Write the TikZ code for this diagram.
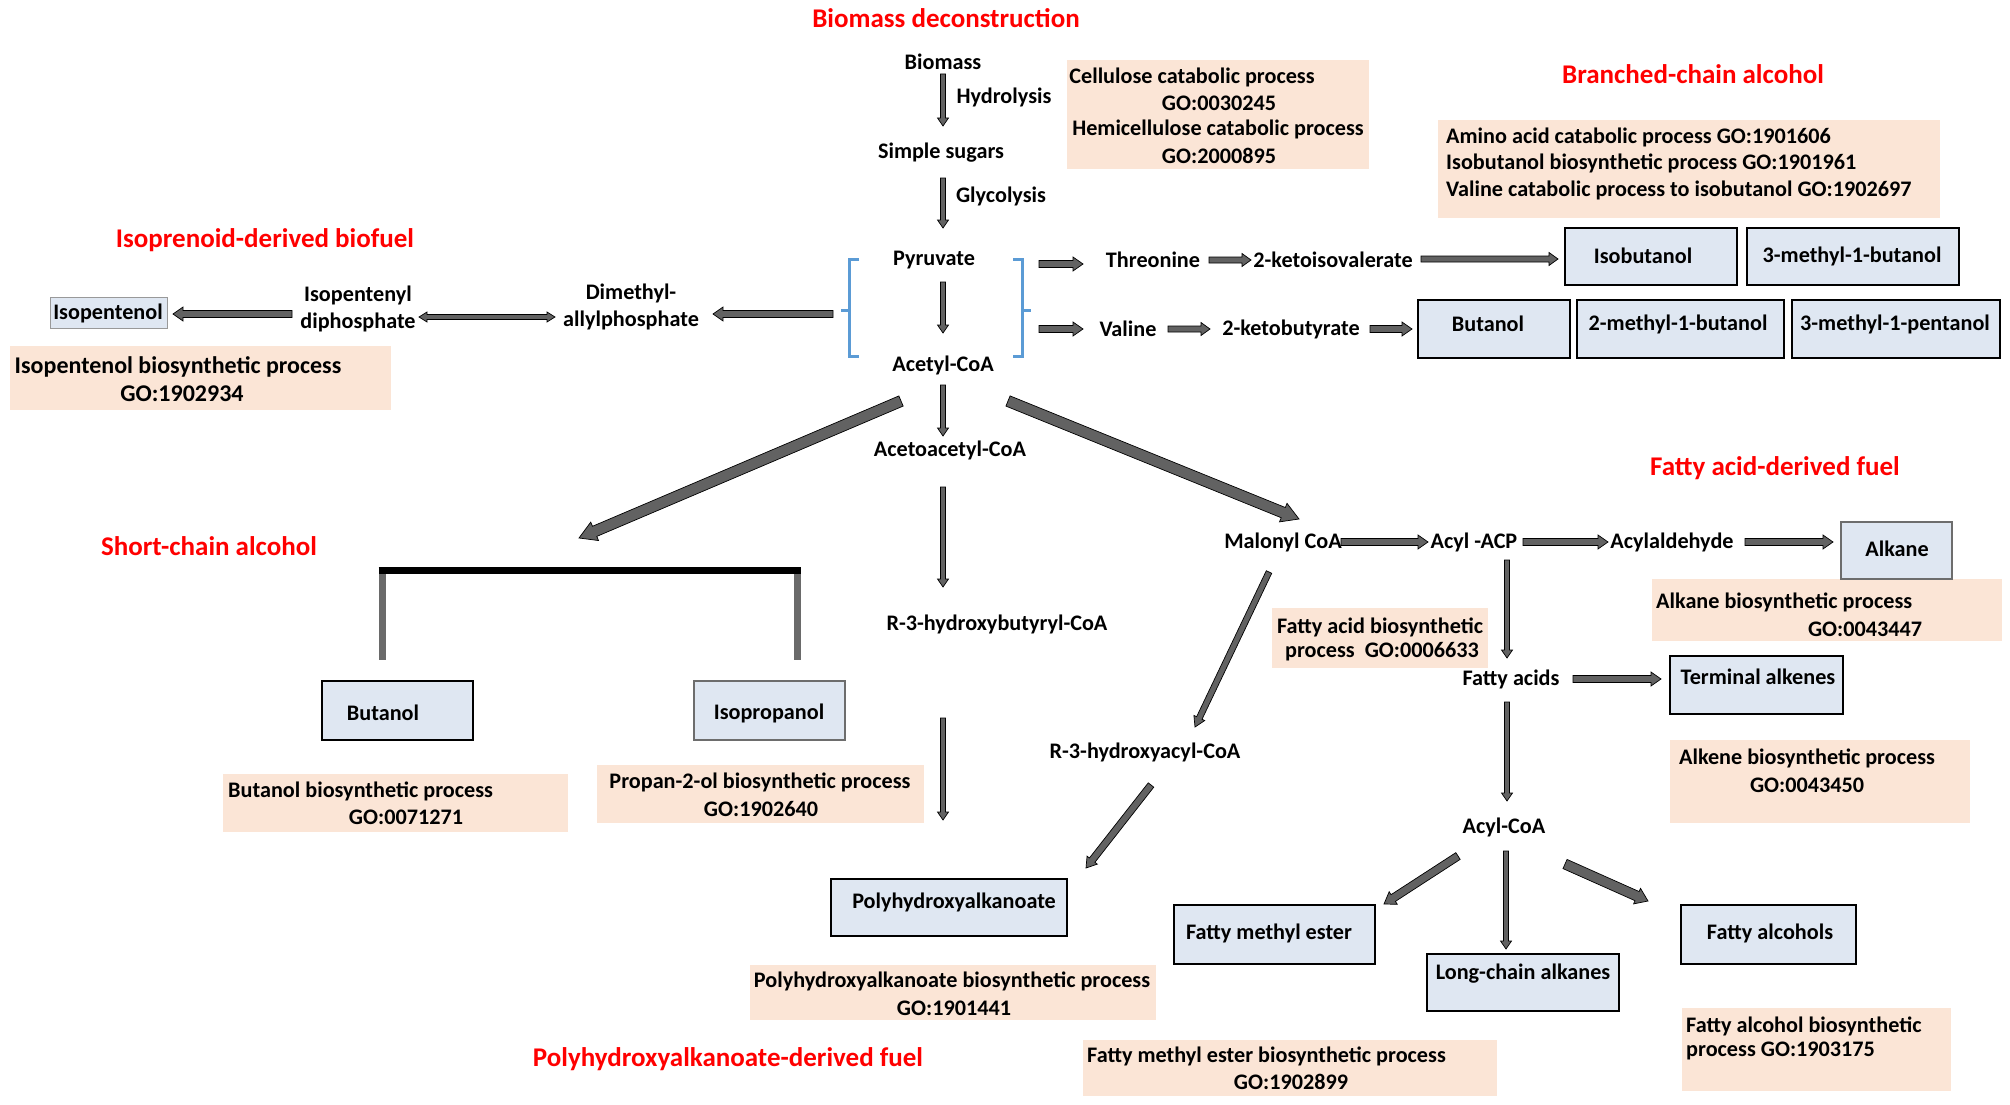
\documentclass[tikz,border=0pt]{standalone}
\usepackage{fontspec}
\setmainfont{Carlito}
\usetikzlibrary{calc}
\definecolor{peach}{HTML}{FBE5D6}
\definecolor{boxblue}{HTML}{DFE7F2}
\definecolor{arrowgray}{HTML}{626262}
\definecolor{brblue}{HTML}{5B9BD5}
\definecolor{titlered}{HTML}{FF0000}
\definecolor{bordergray}{HTML}{6D6D6D}
\definecolor{leggray}{HTML}{6A6A6A}
\tikzset{
  txt/.style={font=\fontsize{22.2}{26.5}\selectfont\bfseries, inner sep=0pt, align=center},
  bigtxt/.style={txt, font=\fontsize{24}{28}\selectfont\bfseries},
  ttl/.style={font=\fontsize{27}{31}\selectfont\bfseries, text=titlered, inner sep=0pt},
  sz/.style 2 args={minimum width=#1pt, minimum height=#2pt},
  gobox/.style={fill=peach, draw=none, inner sep=0pt},
  prodbox/.style={fill=boxblue, draw=black, line width=2.5pt, inner sep=0pt},
  grprodbox/.style={prodbox, draw=bordergray},
  thinbox/.style={fill=boxblue, draw=bordergray!70, line width=1pt, inner sep=0pt},
  blockarrow/.style={fill=arrowgray, draw=black, line width=0.7pt, line join=miter},
  bracket/.style={draw=brblue, line width=3pt},
}
% single block arrow: start, end, half shaft, half head, head length
\newcommand\barrow[5]{%
  \coordinate (bah) at ($(#2)!#5!(#1)$);
  \draw[blockarrow] ($(#1)!#3!90:(#2)$) -- ($(bah)!#3!90:(#2)$) -- ($(bah)!#4!90:(#2)$) -- (#2)
    -- ($(bah)!#4!-90:(#2)$) -- ($(bah)!#3!-90:(#2)$) -- ($(#1)!#3!-90:(#2)$) -- cycle;}
% double block arrow
\newcommand\dbarrow[5]{%
  \coordinate (bhA) at ($(#1)!#5!(#2)$);
  \coordinate (bhB) at ($(#2)!#5!(#1)$);
  \draw[blockarrow] (#1) -- ($(bhA)!#4!90:(#2)$) -- ($(bhA)!#3!90:(#2)$) -- ($(bhB)!#3!90:(#2)$)
    -- ($(bhB)!#4!90:(#2)$) -- (#2) -- ($(bhB)!#4!-90:(#2)$) -- ($(bhB)!#3!-90:(#2)$)
    -- ($(bhA)!#3!-90:(#2)$) -- ($(bhA)!#4!-90:(#2)$) -- cycle;}
\newcommand\thinarrow[2]{\barrow{#1}{#2}{2.5pt}{5.5pt}{8pt}}
\newcommand\medarrow[2]{\barrow{#1}{#2}{3.5pt}{7pt}{10pt}}
\newcommand\thickarrow[2]{\barrow{#1}{#2}{5.5pt}{10pt}{17pt}}

\begin{document}
\begin{tikzpicture}[x=1pt,y=-1pt]
\useasboundingbox[fill=white] (0,0) rectangle (2010,1105);

% ---------- titles ----------
\node[ttl] (tbio) at (946,18) {Biomass deconstruction};
\node[ttl] (tbra) at (1693,74) {Branched-chain alcohol};
\node[ttl] (tiso) at (265,240) {Isoprenoid-derived biofuel};
\node[ttl] (tsho) at (209,546) {Short-chain alcohol};
\node[ttl] (tfat) at (1775,468) {Fatty acid-derived fuel};
\node[ttl] (tpha) at (728,1059) {Polyhydroxyalkanoate-derived fuel};

% ---------- GO boxes (background) ----------
\node[gobox, sz={302}{109}] (gocel) at (1218,114.5) {};
\node[gobox, sz={502}{98}] (gobra) at (1689,169) {};
\node[gobox, sz={381}{64}] (goipn) at (200.5,378) {};
\node[gobox, sz={345}{58}] (gobut) at (395.5,803) {};
\node[gobox, sz={327}{58}] (goprp) at (760.5,794) {};
\node[gobox, sz={406}{55}] (gopha) at (953,992.5) {};
\node[gobox, sz={350}{62}] (goalk) at (1827,610) {};
\node[gobox, sz={216}{60}] (gofa) at (1380,638) {};
\node[gobox, sz={300}{83}] (goalke) at (1820,781.5) {};
\node[gobox, sz={414}{56}] (gofme) at (1290,1068) {};
\node[gobox, sz={269}{83}] (gofal) at (1816.5,1049.5) {};

% GO texts
\node[txt] (gocel1) at (1192,77) {Cellulose catabolic process};
\node[txt] (gocel2) at (1219,103) {GO:0030245};
\node[txt] (gocel3) at (1218,129) {Hemicellulose catabolic process};
\node[txt] (gocel4) at (1219,156) {GO:2000895};
\node[txt, anchor=west] (gobra1) at (1446,137) {Amino acid catabolic process GO:1901606};
\node[txt, anchor=west] (gobra2) at (1446,163) {Isobutanol biosynthetic process GO:1901961};
\node[txt, anchor=west] (gobra3) at (1446,190) {Valine catabolic process to isobutanol GO:1902697};
\node[bigtxt] (goipn1) at (178,367) {Isopentenol biosynthetic process};
\node[bigtxt] (goipn2) at (182,394) {GO:1902934};
\node[txt, anchor=west] (gobut1) at (228,791) {Butanol biosynthetic process};
\node[txt] (gobut2) at (406,817) {GO:0071271};
\node[txt] (goprp1) at (760,782) {Propan-2-ol biosynthetic process};
\node[txt] (goprp2) at (761,809) {GO:1902640};
\node[txt] (gopha1) at (952,981) {Polyhydroxyalkanoate biosynthetic process};
\node[txt] (gopha2) at (954,1008) {GO:1901441};
\node[txt, anchor=west] (goalk1) at (1656,602) {Alkane biosynthetic process};
\node[txt] (goalk2) at (1865,629) {GO:0043447};
\node[txt] (gofa1) at (1380,627) {Fatty acid biosynthetic};
\node[txt] (gofa2) at (1382,652) {process\ \ GO:0006633};
\node[txt] (goalke1) at (1807,758) {Alkene biosynthetic process};
\node[txt] (goalke2) at (1807,785) {GO:0043450};
\node[txt, anchor=west] (gofme1) at (1087,1056) {Fatty methyl ester biosynthetic process};
\node[txt] (gofme2) at (1291,1082) {GO:1902899};
\node[txt, anchor=west] (gofal1) at (1686,1026) {Fatty alcohol biosynthetic};
\node[txt, anchor=west] (gofal2) at (1686,1051) {process GO:1903175};

% ---------- product boxes ----------
\node[thinbox, sz={117}{31}] (bipn) at (108.5,312.5) {};
\node[prodbox, sz={172}{57}] (bisob) at (1651,256.5) {};
\node[prodbox, sz={212}{57}] (b3m1b) at (1853,256.5) {};
\node[prodbox, sz={152}{58}] (bbut2) at (1494,329) {};
\node[prodbox, sz={207}{58}] (b2m1b) at (1680.5,329) {};
\node[prodbox, sz={208}{58}] (b3m1p) at (1896,329) {};
\node[prodbox, sz={151}{59}] (bbut) at (397.5,710.5) {};
\node[grprodbox, sz={151}{59}] (bprp) at (769.5,710.5) {};
\node[prodbox, sz={236}{57}] (bpha) at (949,907.5) {};
\node[grprodbox, sz={111}{57}] (balk) at (1896.5,550.5) {};
\node[prodbox, sz={173}{58}] (bterm) at (1756.5,685) {};
\node[prodbox, sz={201}{59}] (bfme) at (1274.5,934.5) {};
\node[prodbox, sz={192}{57}] (blca) at (1523,982.5) {};
\node[prodbox, sz={175}{59}] (bfal) at (1768.5,934.5) {};

\node[txt] (lipn) at (108,313) {Isopentenol};
\node[txt] (lisob) at (1643,256) {Isobutanol};
\node[txt] (l3m1b) at (1852,256) {3-methyl-1-butanol};
\node[txt] (lbut2) at (1488,324) {Butanol};
\node[txt] (l2m1b) at (1678,324) {2-methyl-1-butanol};
\node[txt] (l3m1p) at (1895,324) {3-methyl-1-pentanol};
\node[txt] (lbut) at (383,713) {Butanol};
\node[txt] (lprp) at (769,713) {Isopropanol};
\node[txt] (lpha) at (954,902) {Polyhydroxyalkanoate};
\node[txt] (lalk) at (1897,549) {Alkane};
\node[txt] (lterm) at (1758,677) {Terminal alkenes};
\node[txt] (lfme) at (1269,933) {Fatty methyl ester};
\node[txt] (llca) at (1523,974) {Long-chain alkanes};
\node[txt] (lfal) at (1770,933) {Fatty alcohols};

% ---------- pathway texts ----------
\node[txt] (biomass) at (943,62) {Biomass};
\node[txt] (hydro) at (1004,97) {Hydrolysis};
\node[txt] (sugars) at (941,153) {Simple sugars};
\node[txt] (glyco) at (1001,196) {Glycolysis};
\node[txt] (pyr) at (934,260) {Pyruvate};
\node[txt] (acetyl) at (943,365) {Acetyl-CoA};
\node[txt] (acetoac) at (950,450) {Acetoacetyl-CoA};
\node[txt] (r3hb) at (997,624) {R-3-hydroxybutyryl-CoA};
\node[txt] (dimeth) at (631,307) {Dimethyl-\\allylphosphate};
\node[txt] (ipp) at (358,309) {Isopentenyl\\diphosphate};
\node[txt] (thr) at (1153,260) {Threonine};
\node[txt] (kiv) at (1333,260) {2-ketoisovalerate};
\node[txt] (val) at (1128,329) {Valine};
\node[txt] (kb) at (1291,329) {2-ketobutyrate};
\node[txt] (malonyl) at (1283,542) {Malonyl CoA};
\node[txt] (acp) at (1474,542) {Acyl -ACP};
\node[txt] (acylald) at (1672,542) {Acylaldehyde};
\node[txt] (fattyac) at (1511,679) {Fatty acids};
\node[txt] (acylcoa) at (1504,827) {Acyl-CoA};
\node[txt] (r3ha) at (1145,752) {R-3-hydroxyacyl-CoA};

% ---------- brackets ----------
\draw[bracket] (859,259) -- (849,259) -- (849,356) -- (859,356);
\draw[bracket] (849,310) -- (841,310);
\draw[bracket] (1013,259) -- (1022,259) -- (1022,356) -- (1013,356);
\draw[bracket] (1022,310) -- (1031,310);

% ---------- arrow end points ----------
\coordinate (m1s) at (943,74);   \coordinate (m1e) at (943,126);
\coordinate (m2s) at (943,178);  \coordinate (m2e) at (943,228);
\coordinate (m3s) at (943,282);  \coordinate (m3e) at (943,333);
\coordinate (m4s) at (943,385);  \coordinate (m4e) at (943,436);
\coordinate (m5s) at (943,487);  \coordinate (m5e) at (943,587);
\coordinate (m6s) at (943,718);  \coordinate (m6e) at (943,820);
\coordinate (i1s) at (833,314);  \coordinate (i1e) at (713,314);
\coordinate (i2s) at (419,317);  \coordinate (i2e) at (555,317);
\coordinate (i3s) at (292,314);  \coordinate (i3e) at (173,314);
\coordinate (b1s) at (1039,264); \coordinate (b1e) at (1083,264);
\coordinate (b2s) at (1039,329); \coordinate (b2e) at (1083,329);
\coordinate (b3s) at (1209,260); \coordinate (b3e) at (1251,260);
\coordinate (b4s) at (1421,259); \coordinate (b4e) at (1558,259);
\coordinate (b5s) at (1168,329); \coordinate (b5e) at (1210,329);
\coordinate (b6s) at (1370,329); \coordinate (b6e) at (1412,329);
\coordinate (s1s) at (901,401);  \coordinate (s1e) at (579,538);
\coordinate (f1s) at (1008,401); \coordinate (f1e) at (1299,519);
\coordinate (f2s) at (1341,542); \coordinate (f2e) at (1428,542);
\coordinate (f3s) at (1523,542); \coordinate (f3e) at (1608,542);
\coordinate (f4s) at (1745,542); \coordinate (f4e) at (1833,542);
\coordinate (f5s) at (1507,560); \coordinate (f5e) at (1507,658);
\coordinate (f6s) at (1573,679); \coordinate (f6e) at (1661,679);
\coordinate (f7s) at (1507,702); \coordinate (f7e) at (1507,801);
\coordinate (f8s) at (1458,856); \coordinate (f8e) at (1384,904);
\coordinate (f9s) at (1506,851); \coordinate (f9e) at (1506,949);
\coordinate (f10s) at (1565,864); \coordinate (f10e) at (1648,901);
\coordinate (p1s) at (1269,572); \coordinate (p1e) at (1195,727);
\coordinate (p2s) at (1151,785); \coordinate (p2e) at (1086,868);

% ---------- arrows ----------
\thinarrow{m1s}{m1e}
\thinarrow{m2s}{m2e}
\thinarrow{m3s}{m3e}
\thinarrow{m4s}{m4e}
\thinarrow{m5s}{m5e}
\thinarrow{m6s}{m6e}
\barrow{i1s}{i1e}{3.5pt}{7pt}{10pt}
\dbarrow{i2s}{i2e}{2.5pt}{5pt}{8pt}
\barrow{i3s}{i3e}{3.5pt}{7pt}{10pt}
\medarrow{b1s}{b1e}
\medarrow{b2s}{b2e}
\barrow{b3s}{b3e}{3pt}{6.5pt}{9pt}
\barrow{b4s}{b4e}{3pt}{6.5pt}{9pt}
\barrow{b5s}{b5e}{3pt}{6.5pt}{9pt}
\medarrow{b6s}{b6e}
\thickarrow{s1s}{s1e}
\thickarrow{f1s}{f1e}
\barrow{f2s}{f2e}{3.5pt}{7pt}{10pt}
\barrow{f3s}{f3e}{3.5pt}{7pt}{10pt}
\barrow{f4s}{f4e}{3.5pt}{7pt}{10pt}
\thinarrow{f5s}{f5e}
\barrow{f6s}{f6e}{3.5pt}{7pt}{10pt}
\thinarrow{f7s}{f7e}
\barrow{f8s}{f8e}{4pt}{7.5pt}{11pt}
\thinarrow{f9s}{f9e}
\barrow{f10s}{f10e}{5pt}{8.5pt}{12pt}
\barrow{p1s}{p1e}{3pt}{6pt}{10pt}
\barrow{p2s}{p2e}{3.5pt}{6.5pt}{10pt}

% ---------- short-chain split ----------
\coordinate (sbl) at (382,660); \coordinate (sbr) at (797,660);
\coordinate (stl) at (382,570); \coordinate (str) at (797,570);
\draw[leggray, line width=7pt] (stl) -- (sbl);
\draw[leggray, line width=7pt] (str) -- (sbr);
\draw[black, line width=7pt] ([xshift=-3.5pt]stl) -- ([xshift=3.5pt]str);
\end{tikzpicture}
\end{document}
